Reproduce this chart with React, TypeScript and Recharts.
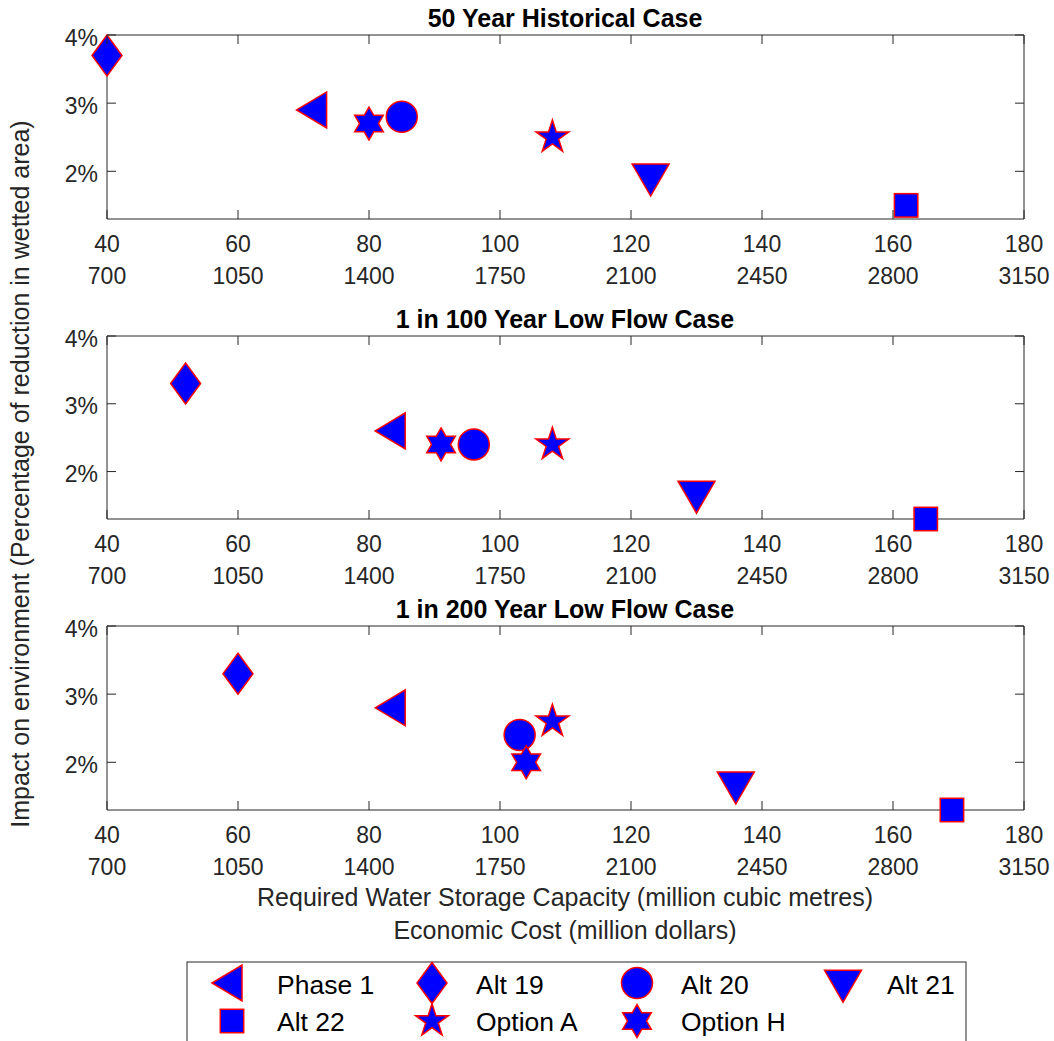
import React from 'react';
import { ScatterChart, Scatter, XAxis, YAxis } from 'recharts';

const options = ['Phase 1', 'Alt 19', 'Alt 20', 'Alt 21', 'Alt 22', 'Option A', 'Option H'];
const markerKinds = ['left', 'diamond', 'circle', 'down', 'square', 'pentagram', 'hexagram'];

const capacityTicks = [40, 60, 80, 100, 120, 140, 160, 180];
const costTicks = [700, 1050, 1400, 1750, 2100, 2450, 2800, 3150];
const impactTicks = [2, 3, 4];

// required storage capacity (million m3) and impact (%) per option, same order as `options`
const historicalCapacity = [72, 40, 85, 123, 162, 108, 80];
const historicalImpact = [2.9, 3.7, 2.8, 1.95, 1.5, 2.5, 2.7];
const lowFlow100Capacity = [84, 52, 96, 130, 165, 108, 91];
const lowFlow100Impact = [2.6, 3.3, 2.4, 1.7, 1.3, 2.4, 2.4];
const lowFlow200Capacity = [84, 60, 103, 136, 169, 108, 104];
const lowFlow200Impact = [2.8, 3.3, 2.4, 1.7, 1.3, 2.6, 2.0];

const AXIS = '#262626';
const FONT = '"Liberation Sans", Arial, Helvetica, sans-serif';
const TICK_FONT = 23;

const panels = [
  { title: '50 Year Historical Case', capacity: historicalCapacity, impact: historicalImpact, top: 0, plotHeight: 183 },
  { title: '1 in 100 Year Low Flow Case', capacity: lowFlow100Capacity, impact: lowFlow100Impact, top: 301, plotHeight: 182 },
  { title: '1 in 200 Year Low Flow Case', capacity: lowFlow200Capacity, impact: lowFlow200Impact, top: 591, plotHeight: 183 },
];

function starPoints(cx: number, cy: number, n: number, outer: number, inner: number) {
  const pts: string[] = [];
  for (let i = 0; i < n * 2; i++) {
    const r = i % 2 === 0 ? outer : inner;
    const a = -Math.PI / 2 + (i * Math.PI) / n;
    pts.push(`${cx + r * Math.cos(a)},${cy + r * Math.sin(a)}`);
  }
  return pts.join(' ');
}

function Marker({ kind, cx, cy }: { kind: string; cx: number; cy: number }) {
  const style = { fill: '#0000ff', stroke: '#ff0000', strokeWidth: 1.5 };
  switch (kind) {
    case 'left':
      return <polygon points={`${cx - 20},${cy} ${cx + 10},${cy - 18} ${cx + 10},${cy + 18}`} {...style} />;
    case 'down':
      return <polygon points={`${cx - 18.5},${cy - 10.7} ${cx + 18.5},${cy - 10.7} ${cx},${cy + 21.3}`} {...style} />;
    case 'diamond':
      return <polygon points={`${cx},${cy - 20.5} ${cx + 15},${cy} ${cx},${cy + 20.5} ${cx - 15},${cy}`} {...style} />;
    case 'circle':
      return <circle cx={cx} cy={cy} r={15.5} {...style} />;
    case 'square':
      return <rect x={cx - 11.7} y={cy - 11.7} width={23.4} height={23.4} {...style} />;
    case 'pentagram':
      return <polygon points={starPoints(cx, cy, 5, 17.3, 17.3 * 0.382)} {...style} />;
    case 'hexagram':
      return <polygon points={starPoints(cx, cy, 6, 16.5, 16.5 / Math.sqrt(3))} {...style} />;
    default:
      return null;
  }
}

function BottomTick(props: any) {
  const { x, y, payload, index } = props;
  return (
    <g>
      <line x1={x} y1={y} x2={x} y2={y - 9} stroke={AXIS} strokeWidth={1} />
      <text x={x} y={y + 33} textAnchor="middle" fontSize={TICK_FONT} fill={AXIS} fontFamily={FONT}>
        {payload.value}
      </text>
      <text x={x} y={y + 65} textAnchor="middle" fontSize={TICK_FONT} fill={AXIS} fontFamily={FONT}>
        {costTicks[index]}
      </text>
    </g>
  );
}

function LeftTick(props: any) {
  const { x, y, payload } = props;
  return (
    <g>
      <line x1={x} y1={y} x2={x + 9} y2={y} stroke={AXIS} strokeWidth={1} />
      <text x={x - 9} y={y + 10.5} textAnchor="end" fontSize={TICK_FONT} fill={AXIS} fontFamily={FONT}>
        {payload.value}%
      </text>
    </g>
  );
}

// top and right sides: inward tick marks only
function TopTick(props: any) {
  const { x, y } = props;
  return <line x1={x} y1={y} x2={x} y2={y + 9} stroke={AXIS} strokeWidth={1} />;
}

function RightTick(props: any) {
  const { x, y } = props;
  return <line x1={x} y1={y} x2={x - 9} y2={y} stroke={AXIS} strokeWidth={1} />;
}

function Panel({ capacity, impact, top, plotHeight }: any) {
  const data = options.map((name, i) => ({ name, x: capacity[i], y: impact[i], kind: markerKinds[i] }));
  return (
    <div style={{ position: 'absolute', left: 0, top }}>
      <ScatterChart width={1054} height={36 + plotHeight + 75} margin={{ top: 35, right: 30, bottom: 0, left: 47 }}>
        <XAxis
          type="number"
          dataKey="x"
          domain={[40, 180]}
          ticks={capacityTicks}
          interval={0}
          height={75}
          tickSize={0}
          tickMargin={0}
          tickLine={false}
          stroke={AXIS}
          tick={BottomTick}
        />
        <XAxis
          xAxisId="top"
          orientation="top"
          type="number"
          dataKey="x"
          domain={[40, 180]}
          ticks={capacityTicks}
          interval={0}
          height={1}
          mirror
          tickSize={0}
          tickMargin={0}
          tickLine={false}
          tick={TopTick}
          stroke={AXIS}
        />
        <YAxis
          type="number"
          dataKey="y"
          domain={[1.3, 4]}
          ticks={impactTicks}
          interval={0}
          width={60}
          tickSize={0}
          tickMargin={0}
          tickLine={false}
          stroke={AXIS}
          tick={LeftTick}
        />
        <YAxis
          yAxisId="right"
          orientation="right"
          type="number"
          dataKey="y"
          domain={[1.3, 4]}
          ticks={impactTicks}
          interval={0}
          width={1}
          mirror
          tickSize={0}
          tickMargin={0}
          tickLine={false}
          tick={RightTick}
          stroke={AXIS}
        />
        {/* invisible series so the box axes (top / right) get drawn */}
        <Scatter
          xAxisId="top"
          yAxisId="right"
          data={data}
          isAnimationActive={false}
          shape={() => <g />}
        />
        {data.map((d) => (
          <Scatter
            key={d.name}
            name={d.name}
            data={[d]}
            isAnimationActive={false}
            shape={(p: any) => <Marker kind={d.kind} cx={p.cx} cy={p.cy} />}
          />
        ))}
      </ScatterChart>
    </div>
  );
}

const legendSlots = [
  { x: 232, y: 983, tx: 277, ty: 994 },
  { x: 432, y: 983, tx: 476, ty: 994 },
  { x: 637, y: 983, tx: 681, ty: 994 },
  { x: 843, y: 981, tx: 887, ty: 994 },
  { x: 232, y: 1021, tx: 277, ty: 1031 },
  { x: 432, y: 1021, tx: 476, ty: 1031 },
  { x: 637, y: 1021, tx: 681, ty: 1031 },
];

export default function App() {
  return (
    <div style={{ position: 'absolute', left: 0, top: 0, width: 1054, height: 1041, background: '#fff', overflow: 'hidden' }}>
      {panels.map((p) => (
        <Panel key={p.title} {...p} />
      ))}
      <svg width={1054} height={1041} style={{ position: 'absolute', left: 0, top: 0, pointerEvents: 'none' }} fontFamily={FONT}>
        {panels.map((p) => (
          <text key={p.title} x={565} y={p.top + 27} textAnchor="middle" fontSize={25} fontWeight="bold" fill="#000">
            {p.title}
          </text>
        ))}
        <text x={29} y={474} transform="rotate(-90 29 474)" textAnchor="middle" fontSize={25} fill={AXIS}>
          Impact on environment (Percentage of reduction in wetted area)
        </text>
        <text x={565} y={906} textAnchor="middle" fontSize={25} fill={AXIS}>
          Required Water Storage Capacity (million cubic metres)
        </text>
        <text x={565} y={939} textAnchor="middle" fontSize={25} fill={AXIS}>
          Economic Cost (million dollars)
        </text>
        <rect x={187} y={962} width={779} height={100} fill="#fff" stroke={AXIS} strokeWidth={1} />
        {options.map((name, i) => (
          <g key={name}>
            <Marker kind={markerKinds[i]} cx={legendSlots[i].x} cy={legendSlots[i].y} />
            <text x={legendSlots[i].tx} y={legendSlots[i].ty} fontSize={26.5} fill="#000">
              {name}
            </text>
          </g>
        ))}
      </svg>
    </div>
  );
}
